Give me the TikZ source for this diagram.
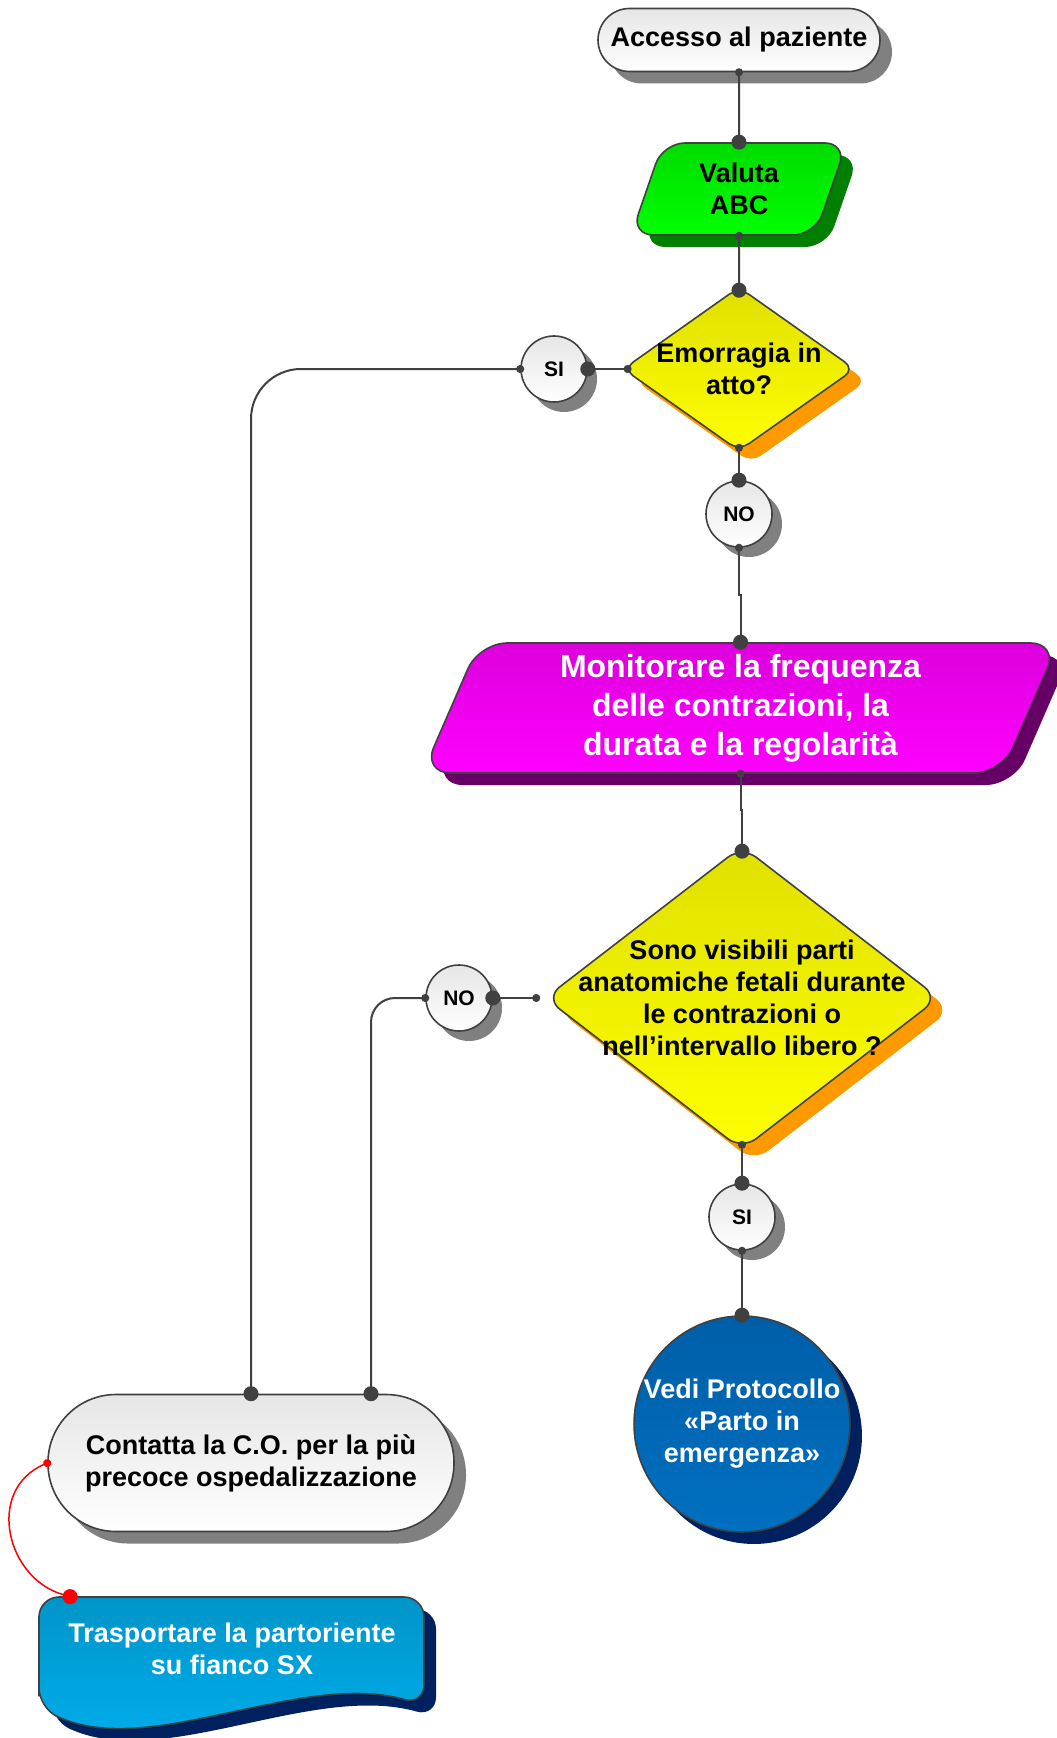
\documentclass[tikz,border=0pt]{standalone}
\usepackage{fontspec}
\setmainfont{Liberation Sans}
\usetikzlibrary{arrows.meta,positioning,shapes.geometric,shadows,calc}
\definecolor{linegray}{HTML}{404040}
\definecolor{shadowgray}{HTML}{808080}
\definecolor{paleg}{HTML}{E6E6E6}
\definecolor{greentop}{HTML}{00DC00}
\definecolor{greenbot}{HTML}{00FF00}
\definecolor{greensh}{HTML}{007F00}
\definecolor{yeltop}{HTML}{E0E000}
\definecolor{yelbot}{HTML}{FFFF00}
\definecolor{orangesh}{HTML}{FF9900}
\definecolor{magtop}{HTML}{DC00DC}
\definecolor{magbot}{HTML}{FF00FF}
\definecolor{magsh}{HTML}{660066}
\definecolor{bluetop}{HTML}{005EA8}
\definecolor{bluebot}{HTML}{0070C0}
\definecolor{navysh}{HTML}{002060}
\definecolor{cyantop}{HTML}{0095C8}
\definecolor{cyanbot}{HTML}{00B0F0}
\newcommand{\trwave}{(39,1708) -- (39,1597) -- (424,1597) -- (424,1705)
  .. controls (300,1670) and (150,1760) .. (39,1708) -- cycle}

\begin{document}
\begin{tikzpicture}[x=0.5pt,y=-0.5pt,
   every node/.style={font=\bfseries\fontsize{13.5}{16}\selectfont,align=center},
   box/.style={draw=linegray,line width=0.8pt},
   castshadow/.style={drop shadow={shadow xshift=6pt,shadow yshift=-6pt,fill=#1,opacity=1}},
   term/.style={box,rectangle,top color=paleg,bottom color=white,castshadow=shadowgray},
   io/.style={box,trapezium,trapezium stretches=true,inner sep=2pt},
   decision/.style={box,diamond,rounded corners=6pt,inner sep=0pt,
              top color=yeltop,bottom color=yelbot,castshadow=orangesh},
   answer/.style={box,circle,minimum size=33pt,inner sep=0pt,
              font=\bfseries\fontsize{10.5}{12}\selectfont,
              top color=paleg,bottom color=white,
              drop shadow={shadow xshift=5pt,shadow yshift=-5pt,fill=shadowgray,opacity=1}},
   link/.style={draw=linegray,line width=1pt,{Circle[length=4pt]}-{Circle[length=7.5pt]},
              shorten <=-2pt,shorten >=-3.75pt},
   redlink/.style={link,draw=red,line width=0.75pt}]
  \fill[white] (0,0) rectangle (1056,1738);
  \useasboundingbox (0,0) rectangle (1056,1738);

  \node[term,rounded corners=15.75pt,minimum width=141pt,minimum height=31.5pt] (acc) at (739,40)
       {Accesso al paziente};
  \node[io,rounded corners=11pt,trapezium left angle=73,trapezium right angle=107,
        minimum width=108pt,minimum height=46pt,
        top color=greentop,bottom color=greenbot,castshadow=greensh] (val) at (739,189) {Valuta\\ABC};
  \node[decision,minimum width=116pt,minimum height=82pt,
        label={center:Emorragia in\\atto?}] (d1) at (739,369) {};
  \node[answer] (si1) at (554,369) {SI};
  \node[answer] (no1) at (739,514) {NO};
  \node[io,rounded corners=14pt,trapezium left angle=71,trapezium right angle=109,
        minimum width=318pt,minimum height=65pt,
        top color=magtop,bottom color=magbot,castshadow=magsh,text=white,
        font=\bfseries\fontsize{16}{19.5}\selectfont] (mon) at (740.5,708)
       {Monitorare la frequenza\\delle contrazioni, la\\durata e la regolarità};
  \node[decision,rounded corners=9pt,minimum width=197pt,minimum height=152pt,
        label={center:Sono visibili parti\\anatomiche fetali durante\\le contrazioni o\\nell’intervallo libero ?}]
       (d2) at (742,998) {};
  \coordinate (d2out) at ([xshift=-4pt]d2.west);
  \node[answer] (no2) at (459,998) {NO};
  \node[answer] (si2) at (742,1217) {SI};
  \node[box,circle,minimum size=107pt,inner sep=0pt,top color=bluetop,bottom color=bluebot,
        castshadow=navysh,text=white] (vedi) at (742,1424) {Vedi Protocollo\\«Parto in\\emergenza»};
  \node[term,rounded corners=34pt,minimum width=203pt,minimum height=68.5pt] (co) at (251,1463)
       {Contatta la C.O. per la più\\precoce ospedalizzazione};

  \fill[navysh,shift={(12,12)},rounded corners=10pt] \trwave;
  \draw[linegray,line width=0.8pt,top color=cyantop,bottom color=cyanbot,rounded corners=10pt] \trwave;
  \node[text=white,minimum width=192.5pt,minimum height=52pt] (tr) at (232,1649)
       {Trasportare la partoriente\\su fianco SX};

  \draw[link] (acc.south) -- (val.north);
  \draw[link] (val.south) -- ([yshift=-2pt]d1.north);
  \draw[link] ([xshift=2.7pt]d1.west) -- (si1.east);
  \draw[link,rounded corners=25pt] (si1.west) -| (co.north);
  \draw[link] ([yshift=2pt]d1.south) -- (no1.north);
  \draw[link] (no1.south) |- ($(no1.south)!0.5!(mon.north)$) -| (mon.north);
  \draw[link] (mon.south) |- ($(mon.south)!0.5!(d2.north)$) -| ([yshift=-3pt]d2.north);
  \draw[link] (d2out) -- (no2.east);
  \draw[link,rounded corners=12pt] (no2.west) -| ([xshift=60pt]co.north);
  \draw[link] ([yshift=3pt]d2.south) -- (si2.north);
  \draw[link] (si2.south) -- (vedi.north);
  \draw[redlink] (co.west) .. controls +(-62,27) and +(-64,-18) .. ([xshift=15.5pt]tr.north west);
\end{tikzpicture}
\end{document}
